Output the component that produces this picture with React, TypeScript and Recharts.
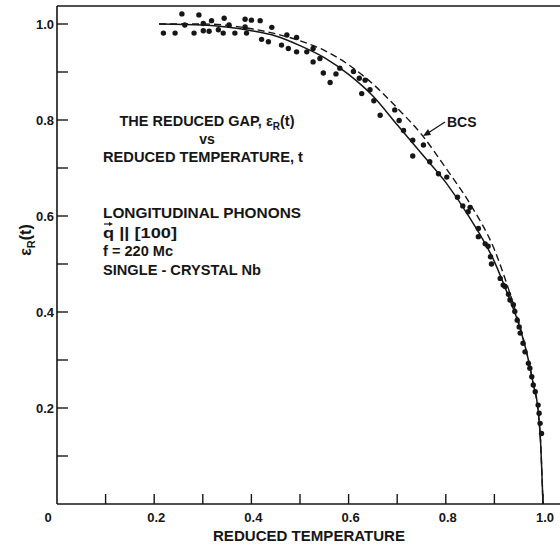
import { ComposedChart, Line, Scatter, XAxis, YAxis, ReferenceLine } from 'recharts';

const measuredT = [
  0.219, 0.243, 0.257, 0.263, 0.282, 0.292, 0.301, 0.301, 0.313, 0.318,
  0.332, 0.344, 0.342, 0.354, 0.366, 0.387, 0.387, 0.39, 0.4, 0.418,
  0.442, 0.421, 0.435, 0.462, 0.473, 0.476, 0.493, 0.493, 0.514, 0.527,
  0.527, 0.541, 0.548, 0.562, 0.574, 0.582, 0.61, 0.622, 0.634, 0.627,
  0.644, 0.652, 0.665, 0.695, 0.704, 0.713, 0.732, 0.732, 0.754, 0.767,
  0.785, 0.802, 0.824, 0.835, 0.846, 0.85, 0.867, 0.867, 0.881, 0.887,
  0.892, 0.894, 0.912, 0.918, 0.922, 0.929, 0.932, 0.939, 0.942, 0.947,
  0.951, 0.953, 0.959, 0.963, 0.97, 0.973, 0.977, 0.98, 0.984, 0.99,
  0.992, 0.994, 0.997,
];
const measuredGap = [
  0.981, 0.981, 1.021, 0.998, 0.981, 1.019, 1.001, 0.986, 0.985, 1.007,
  0.988, 1.012, 0.981, 0.998, 0.981, 1.01, 0.994, 0.981, 1.008, 1.007,
  0.993, 0.968, 0.963, 0.956, 0.977, 0.949, 0.972, 0.942, 0.942, 0.949,
  0.921, 0.928, 0.898, 0.878, 0.896, 0.908, 0.901, 0.887, 0.883, 0.855,
  0.863, 0.84, 0.81, 0.821, 0.799, 0.778, 0.758, 0.725, 0.748, 0.713,
  0.688, 0.681, 0.639, 0.621, 0.609, 0.618, 0.574, 0.557, 0.542, 0.537,
  0.515, 0.5, 0.47, 0.456, 0.453, 0.437, 0.425, 0.415, 0.401, 0.383,
  0.369, 0.356, 0.335, 0.317, 0.293, 0.283, 0.265, 0.248, 0.234, 0.206,
  0.189, 0.168, 0.147,
];

// solid curve through the data
const fitT = [0.21, 0.3, 0.4, 0.45, 0.5, 0.55, 0.6, 0.65, 0.7, 0.75, 0.8, 0.85, 0.9, 0.93, 0.95, 0.97, 0.98, 0.99, 0.995, 1.0];
const fitGap = [1.0, 0.998, 0.986, 0.975, 0.955, 0.93, 0.895, 0.85, 0.79, 0.73, 0.67, 0.595, 0.505, 0.43, 0.375, 0.3, 0.25, 0.195, 0.13, 0];

// dashed BCS curve
const bcsT = [0.21, 0.3, 0.4, 0.5, 0.55, 0.6, 0.65, 0.7, 0.75, 0.8, 0.85, 0.9, 0.93, 0.95, 0.97, 0.98, 0.99, 0.995, 1.0];
const bcsGap = [1.0, 1.0, 0.99, 0.965, 0.945, 0.915, 0.875, 0.825, 0.77, 0.7, 0.625, 0.53, 0.445, 0.38, 0.3, 0.25, 0.195, 0.13, 0];

const xTicks = [0, 0.1, 0.2, 0.3, 0.4, 0.5, 0.6, 0.7, 0.8, 0.9, 1.0];
const xTickLabels = ['0', '', '0.2', '', '0.4', '', '0.6', '', '0.8', '', '1.0'];
const yTicks = [0.1, 0.2, 0.3, 0.4, 0.5, 0.6, 0.7, 0.8, 0.9, 1.0];
const yTickLabels = ['', '0.2', '', '0.4', '', '0.6', '', '0.8', '', '1.0'];

const points = measuredT.map((t, i) => ({ t, e: measuredGap[i] }));
const fit = fitT.map((t, i) => ({ t, e: fitGap[i] }));
const bcs = bcsT.map((t, i) => ({ t, e: bcsGap[i] }));

const INK = '#161616';
const FONT = '"Liberation Sans", Arial, sans-serif';

const XTick = (props: any) => {
  const { x, y, payload, index } = props;
  const label = xTickLabels[index] ?? '';
  return (
    <g>
      {payload.value > 0 && <line x1={x} y1={y} x2={x} y2={y - 10} stroke={INK} strokeWidth={1.4} />}
      <text x={x + (label === '0' ? -9 : 2)} y={y + 18} textAnchor="middle" fontFamily={FONT} fontWeight="bold" fontSize={13} fill={INK}>
        {label}
      </text>
    </g>
  );
};

const YTick = (props: any) => {
  const { x, y, index } = props;
  const label = yTickLabels[index] ?? '';
  return (
    <g>
      <line x1={x} y1={y} x2={x + 11} y2={y} stroke={INK} strokeWidth={1.4} />
      <text x={x - 3} y={y + 5} textAnchor="end" fontFamily={FONT} fontWeight="bold" fontSize={13} fill={INK}>
        {label}
      </text>
    </g>
  );
};

const txt = { fontFamily: FONT, fontWeight: 'bold' as const, fontSize: 15, fill: INK };

export default function App() {
  return (
    <div style={{ position: 'absolute', left: 0, top: 0, width: 560, height: 548, background: '#fff' }}>
      <ComposedChart width={560} height={548} margin={{ top: 6, right: 0, left: 0, bottom: 0 }}>
        <XAxis
          type="number"
          dataKey="t"
          domain={[0, 1.035]}
          ticks={xTicks}
          interval={0}
          height={44}
          tickSize={0}
          tickMargin={0}
          tickLine={false}
          axisLine={{ stroke: INK, strokeWidth: 1.6 }}
          tick={<XTick />}
          label={{
            content: () => (
              <text x={309} y={541} textAnchor="middle" {...txt} textLength={192} lengthAdjust="spacingAndGlyphs">
                REDUCED TEMPERATURE
              </text>
            ),
          }}
        />
        <YAxis
          type="number"
          dataKey="e"
          domain={[0, 1.0375]}
          ticks={yTicks}
          interval={0}
          width={57}
          tickSize={0}
          tickMargin={0}
          tickLine={false}
          axisLine={{ stroke: INK, strokeWidth: 1.6 }}
          tick={<YTick />}
          label={{
            content: () => (
              <text x={31} y={240} transform="rotate(-90 31 240)" textAnchor="middle" {...txt} fontSize={16}>
                {'\u03B5'}
                <tspan fontSize={11} dy={4}>R</tspan>
                <tspan dy={-4}>(t)</tspan>
              </text>
            ),
          }}
        />
        <ReferenceLine y={1.0375} stroke={INK} strokeWidth={1.5} />
        <Line data={bcs} dataKey="e" type="monotone" dot={false} stroke={INK} strokeWidth={1.4} strokeDasharray="7 4" isAnimationActive={false} />
        <Line data={fit} dataKey="e" type="monotone" dot={false} stroke={INK} strokeWidth={1.5} isAnimationActive={false} />
        <Scatter
          data={points}
          dataKey="e"
          isAnimationActive={false}
          shape={(p: any) => <circle cx={p.cx} cy={p.cy} r={2.7} fill={INK} />}
        />
      </ComposedChart>
      <svg width={560} height={548} style={{ position: 'absolute', left: 0, top: 0, pointerEvents: 'none' }}>
        <text x={207} y={126} textAnchor="middle" {...txt} fontSize={14.5}>
          THE REDUCED GAP, {'\u03B5'}
          <tspan fontSize={10} dy={4}>R</tspan>
          <tspan dy={-4}>(t)</tspan>
        </text>
        <text x={207} y={144} textAnchor="middle" {...txt} fontSize={14}>vs</text>
        <text x={203} y={162} textAnchor="middle" {...txt} textLength={200} lengthAdjust="spacingAndGlyphs">REDUCED TEMPERATURE, t</text>
        <text x={103} y={218} {...txt} textLength={198} lengthAdjust="spacingAndGlyphs">LONGITUDINAL PHONONS</text>
        {/* vector arrow over q */}
        <line x1={104} y1={224} x2={111} y2={224} stroke={INK} strokeWidth={1.2} />
        <polygon points="113,224 109,222 109,226" fill={INK} />
        <text x={103} y={238} {...txt} textLength={74} lengthAdjust="spacingAndGlyphs">q || [100]</text>
        <text x={103} y={256} {...txt} textLength={70} lengthAdjust="spacingAndGlyphs">f = 220 Mc</text>
        <text x={103} y={275} {...txt} textLength={158} lengthAdjust="spacingAndGlyphs">SINGLE - CRYSTAL Nb</text>
        <text x={447} y={127} {...txt} fontSize={14}>BCS</text>
        <line x1={445} y1={122} x2={428} y2={133} stroke={INK} strokeWidth={1.3} />
        <polygon points="423,136 428,129 431,135" fill={INK} />
      </svg>
    </div>
  );
}
